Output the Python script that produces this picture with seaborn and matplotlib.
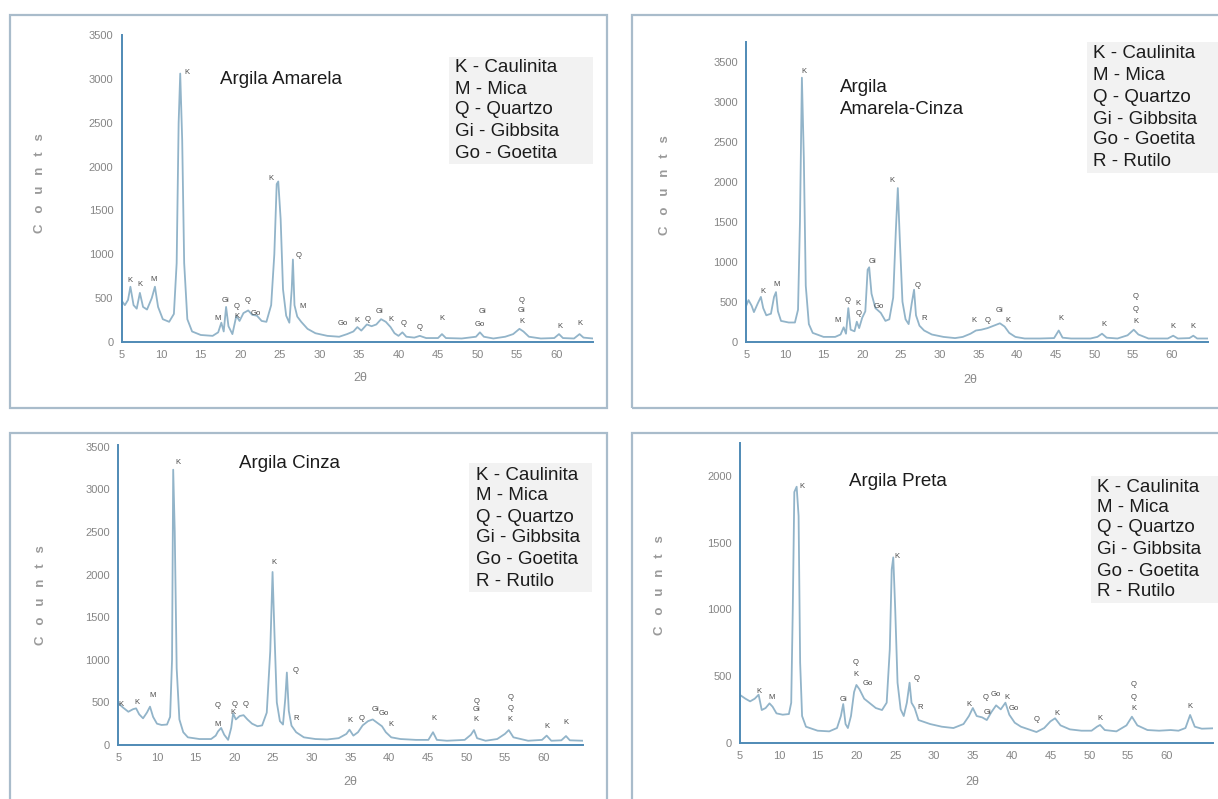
import matplotlib
matplotlib.use("Agg")
import matplotlib.pyplot as plt
import seaborn as sns
from matplotlib.patches import Rectangle
from matplotlib.ticker import MultipleLocator

sns.set_style("white")
plt.rcParams['font.family'] = ['Liberation Sans', 'DejaVu Sans']

# ---------------------------------------------------------------- data
# Argila Amarela
amarela_2theta = [5.0, 5.4, 5.8, 6.1, 6.5, 6.9, 7.3, 7.7, 8.2, 8.8, 9.2, 9.6, 10.2, 11.0, 11.6,
                  11.95, 12.2, 12.4, 12.65, 12.9, 13.3, 13.9, 15.0, 16.5, 17.2, 17.6, 17.9, 18.2,
                  18.5, 19.0, 19.5, 19.9, 20.4, 21.0, 21.5, 22.1, 22.7, 23.3, 23.9, 24.3, 24.6,
                  24.8, 25.1, 25.4, 25.8, 26.2, 26.5, 26.65, 26.85, 27.2, 27.7, 28.5, 29.5, 31.0,
                  32.5, 33.5, 34.3, 34.8, 35.3, 36.0, 36.6, 37.2, 37.8, 38.4, 39.0, 39.5, 40.0,
                  40.5, 41.0, 42.0, 42.7, 43.5, 45.0, 45.5, 46.0, 48.0, 49.8, 50.3, 50.8, 52.0,
                  53.5, 54.5, 55.3, 55.8, 56.5, 58.0, 59.7, 60.3, 60.8, 62.2, 62.9, 63.4, 64.6]
amarela_counts = [470, 420, 480, 630, 420, 380, 560, 400, 370, 500, 630, 400, 260, 230, 320,
                  900, 2500, 3060, 2300, 900, 260, 120, 80, 70, 110, 220, 120, 400,
                  180, 90, 300, 240, 330, 360, 310, 300, 240, 230, 420, 1000, 1800,
                  1830, 1400, 600, 300, 220, 600, 940, 420, 290, 230, 150, 100, 70,
                  60, 90, 120, 170, 130, 200, 180, 200, 260, 230, 170, 100, 70,
                  110, 60, 50, 70, 45, 45, 90, 45, 40, 60, 110, 60, 40,
                  60, 90, 150, 120, 60, 40, 45, 90, 45, 40, 90, 50, 40]
amarela_tags = ["K", "K", "M", "K", "M", "Gi", "Q", "K", "Q", "Go", "K", "Q", "M", "Go", "K",
                "Q", "Gi", "K", "Q", "Q", "K", "Gi", "Go", "Q", "Gi", "K", "K", "K"]
amarela_tag_x = [6.1, 7.3, 9.0, 13.2, 17.1, 18.1, 19.5, 19.6, 20.9, 22.0, 23.9, 27.4, 27.9, 33.0,
                 34.7, 36.1, 37.6, 39.1, 40.6, 42.7, 45.5, 50.6, 50.3, 55.6, 55.6, 55.6, 60.4, 62.9]
amarela_tag_y = [700, 650, 715, 3070, 270, 470, 400, 290, 470, 330, 1860, 990, 400, 210,
                 250, 262, 345, 262, 213, 170, 270, 345, 194, 478, 357, 231, 174, 213]

# Argila Amarela-Cinza
amarcinza_2theta = [5.0, 5.3, 5.7, 6.0, 6.5, 6.9, 7.2, 7.6, 8.2, 8.6, 8.85, 9.1, 9.5, 10.5, 11.3,
                    11.7, 11.95, 12.2, 12.45, 12.7, 13.1, 13.6, 15.0, 16.5, 17.2, 17.6, 17.9, 18.2,
                    18.5, 19.0, 19.3, 19.6, 20.0, 20.4, 20.7, 20.9, 21.2, 21.7, 22.4, 23.0, 23.5,
                    24.0, 24.35, 24.6, 24.85, 25.2, 25.6, 26.0, 26.4, 26.7, 26.95, 27.4, 28.0,
                    29.0, 30.5, 32.0, 33.0, 34.0, 34.7, 35.4, 36.2, 37.0, 37.8, 38.4, 39.0, 39.8,
                    41.0, 43.0, 44.8, 45.4, 45.9, 47.0, 49.5, 50.4, 51.0, 51.6, 53.0, 54.3, 55.1,
                    55.7, 57.0, 59.5, 60.2, 60.8, 62.3, 62.8, 63.3, 64.7]
amarcinza_counts = [450, 520, 450, 370, 480, 560, 420, 330, 350, 560, 620, 380, 260, 240, 240,
                    400, 1500, 3300, 2300, 700, 220, 110, 60, 60, 90, 180, 100, 420,
                    150, 130, 250, 170, 300, 380, 900, 930, 600, 420, 360, 260, 280,
                    550, 1400, 1920, 1300, 500, 280, 220, 480, 650, 330, 200, 140,
                    90, 60, 45, 60, 100, 140, 150, 170, 200, 230, 190, 110, 60,
                    40, 40, 45, 140, 50, 40, 40, 60, 100, 50, 40, 80, 150,
                    90, 40, 40, 75, 40, 45, 75, 40, 40]
amarcinza_tags = ["K", "M", "K", "M", "Q", "K", "Q", "Gi", "Go", "K", "Q", "R", "K", "Q", "Gi",
                  "K", "K", "K", "Q", "Q", "K", "K", "K"]
amarcinza_tag_x = [7.2, 8.9, 12.45, 16.8, 18.1, 19.5, 19.5, 21.3, 22.2, 23.9, 27.1, 28.0, 34.5,
                   36.2, 37.8, 38.8, 45.7, 51.3, 55.4, 55.4, 55.4, 60.2, 62.8]
amarcinza_tag_y = [625, 710, 3380, 260, 510, 480, 355, 1000, 446, 2020, 700, 292, 259,
                   271, 388, 271, 292, 209, 563, 405, 250, 188, 196]

# Argila Cinza
cinza_2theta = [5.0, 5.6, 6.3, 6.9, 7.3, 7.7, 8.2, 8.7, 9.1, 9.5, 10.0, 10.6, 11.3, 11.7, 11.95,
                12.1, 12.3, 12.55, 12.9, 13.4, 14.0, 15.5, 17.0, 17.6, 17.9, 18.3, 18.7, 19.2,
                19.6, 19.85, 20.2, 20.7, 21.2, 21.7, 22.3, 23.0, 23.6, 24.2, 24.65, 24.95, 25.2,
                25.5, 25.9, 26.3, 26.6, 26.8, 27.05, 27.4, 28.0, 29.0, 30.5, 32.0, 33.5, 34.5,
                34.9, 35.4, 36.0, 36.6, 37.3, 37.9, 38.5, 39.1, 39.6, 40.3, 41.5, 43.5, 45.1,
                45.7, 46.2, 47.5, 49.8, 50.6, 51.0, 51.4, 52.5, 54.0, 55.0, 55.5, 56.1, 58.0,
                59.8, 60.4, 61.0, 62.3, 62.9, 63.4, 65.1]
cinza_counts = [490, 440, 390, 420, 430, 360, 313, 380, 450, 330, 250, 235, 240, 330, 1000,
                3230, 2500, 900, 300, 150, 90, 70, 70, 110, 160, 200, 120, 60,
                200, 370, 300, 340, 350, 300, 250, 220, 230, 380, 1100, 2030, 1300,
                500, 280, 240, 550, 850, 400, 227, 150, 90, 70, 65, 80, 130,
                180, 110, 150, 230, 280, 300, 260, 220, 150, 90, 70, 60, 60,
                150, 60, 50, 60, 120, 175, 80, 50, 70, 130, 175, 90, 50,
                60, 110, 50, 55, 105, 55, 50]
cinza_tags = ["K", "K", "M", "K", "M", "Q", "K", "Q", "Q", "K", "Q", "R", "K", "Q", "Gi", "Go",
              "K", "K", "Q", "Gi", "K", "Q", "Q", "K", "K", "K"]
cinza_tag_x = [5.3, 7.4, 9.4, 12.7, 17.8, 17.8, 19.8, 20.0, 21.5, 25.1, 27.9, 28.0, 34.9, 36.5,
               38.2, 39.3, 40.2, 45.8, 51.3, 51.3, 51.3, 55.7, 55.7, 55.7, 60.4, 62.9]
cinza_tag_y = [481, 493, 579, 3310, 246, 458, 380, 470, 470, 2140, 872, 313, 293, 313,
               411, 364, 235, 313, 508, 415, 305, 560, 430, 305, 215, 262]

# Argila Preta
preta_2theta = [5.0, 5.7, 6.3, 6.9, 7.4, 7.8, 8.3, 8.8, 9.2, 9.7, 10.5, 11.3, 11.6, 11.8, 12.0,
                12.3, 12.55, 12.75, 13.0, 13.5, 14.0, 15.0, 16.5, 17.5, 18.0, 18.3, 18.6, 18.9,
                19.3, 19.7, 20.0, 20.4, 21.0, 21.75, 22.5, 23.3, 23.9, 24.3, 24.55, 24.75, 25.0,
                25.3, 25.7, 26.1, 26.5, 26.85, 27.1, 27.5, 28.0, 29.5, 31.0, 32.5, 33.8, 34.5,
                35.0, 35.5, 36.2, 36.8, 37.4, 38.0, 38.6, 39.2, 39.7, 40.4, 41.2, 42.2, 43.2,
                44.2, 45.0, 45.6, 46.3, 47.5, 49.0, 50.3, 51.0, 51.4, 52.0, 53.5, 54.8, 55.5,
                56.2, 57.5, 59.0, 60.5, 61.5, 62.4, 63.0, 63.6, 64.5, 66.0]
preta_counts = [358, 330, 310, 330, 360, 245, 260, 295, 270, 220, 210, 215, 300, 1000, 1880,
                1920, 1700, 600, 200, 120, 110, 90, 85, 110, 200, 290, 140, 110,
                200, 380, 433, 400, 330, 295, 260, 245, 300, 700, 1300, 1390, 1000,
                450, 250, 200, 300, 450, 300, 260, 170, 140, 120, 110, 140, 200,
                260, 200, 190, 170, 230, 280, 250, 300, 210, 150, 120, 100, 80,
                110, 160, 183, 130, 100, 90, 90, 120, 133, 95, 85, 130, 195,
                130, 95, 90, 95, 90, 110, 208, 120, 105, 108]
preta_tags = ["K", "M", "K", "Gi", "Q", "K", "Go", "K", "Q", "R", "K", "Q", "Go", "K", "Gi",
              "Go", "Q", "K", "K", "Q", "Q", "K", "K"]
preta_tag_x = [7.4, 9.1, 12.95, 18.3, 19.95, 19.95, 21.5, 25.25, 27.8, 28.2, 34.55, 36.6, 37.9,
               39.4, 36.9, 40.3, 43.2, 45.8, 51.4, 55.7, 55.7, 55.7, 63.0]
preta_tag_y = [383, 340, 1920, 325, 603, 508, 445, 1395, 483, 265, 290, 340, 358,
               340, 230, 258, 175, 220, 183, 433, 340, 258, 275]

legend_five = ["K - Caulinita", "M - Mica", "Q - Quartzo", "Gi - Gibbsita", "Go - Goetita"]
legend_six = legend_five + ["R - Rutilo"]

# ---------------------------------------------------------------- layout
W, H = 1218, 799
fig = plt.figure(figsize=(W / 100, H / 100), dpi=100)
fig.patch.set_facecolor("white")


def fx(px):
    return px / W


def fy(py):
    return 1 - py / H


AXIS = "#4f8ab5"
CURVE = "#92b4c9"
TICKTXT = "#858585"
FRAME = "#a9bccb"
TEXT = "#1c1c1c"

panels = [
    dict(x=amarela_2theta, y=amarela_counts, tags=amarela_tags, tx=amarela_tag_x, ty=amarela_tag_y,
         px=(121.7, 593), py=(342, 35), xlim=(5, 64.6), ylim=(0, 3500), ymax_tick=3500,
         frame=(10, 15, 607, 408), title=[("Argila Amarela", 220, 80)],
         legend=legend_five, leg_x=455, leg_y=[68, 89, 110, 131, 153], leg_box=(449, 57, 593, 164),
         counts=(40, 183), two_theta=(360, 378)),
    dict(x=amarcinza_2theta, y=amarcinza_counts, tags=amarcinza_tags, tx=amarcinza_tag_x,
         ty=amarcinza_tag_y,
         px=(746.2, 1208), py=(341.7, 41.7), xlim=(5, 64.7), ylim=(0, 3750), ymax_tick=3500,
         frame=(632, 15, 1226, 408), title=[("Argila", 840, 87), ("Amarela-Cinza", 840, 109)],
         legend=legend_six, leg_x=1093, leg_y=[53, 75, 97, 119, 140, 162],
         leg_box=(1087, 42, 1218, 173),
         counts=(665, 185), two_theta=(970, 380)),
    dict(x=cinza_2theta, y=cinza_counts, tags=cinza_tags, tx=cinza_tag_x, ty=cinza_tag_y,
         px=(118.3, 583), py=(745, 445), xlim=(5, 65.1), ylim=(0, 3520), ymax_tick=3500,
         frame=(10, 433, 607, 802), title=[("Argila Cinza", 239, 463)],
         legend=legend_six, leg_x=476, leg_y=[475, 496, 517, 538, 559, 581],
         leg_box=(469, 463, 592, 592),
         counts=(41, 595), two_theta=(350, 782)),
    dict(x=preta_2theta, y=preta_counts, tags=preta_tags, tx=preta_tag_x, ty=preta_tag_y,
         px=(740, 1213.4), py=(742.7, 442.7), xlim=(5, 66), ylim=(0, 2250), ymax_tick=2000,
         frame=(632, 433, 1226, 802), title=[("Argila Preta", 849, 482)],
         legend=legend_six, leg_x=1097, leg_y=[487, 507, 528, 550, 571, 592],
         leg_box=(1091, 476, 1218, 603),
         counts=(660, 585), two_theta=(972, 782)),
]

for p in panels:
    # panel frame
    x0, y0, x1, y1 = p["frame"]
    fig.patches.append(Rectangle((fx(x0), fy(y1)), fx(x1) - fx(x0), fy(y0) - fy(y1),
                                 transform=fig.transFigure, fill=False, edgecolor=FRAME,
                                 linewidth=1.6, zorder=-2))
    # shaded block behind the phase key
    bx0, by0, bx1, by1 = p["leg_box"]
    fig.patches.append(Rectangle((fx(bx0), fy(by1)), fx(bx1) - fx(bx0), fy(by0) - fy(by1),
                                 transform=fig.transFigure, facecolor="#f2f2f2",
                                 edgecolor="none", zorder=-1))

    left, right = p["px"]
    base, top = p["py"]
    ax = fig.add_axes([fx(left), fy(base), fx(right) - fx(left), fy(top) - fy(base)])
    ax.set_facecolor("none")

    sns.lineplot(x=p["x"], y=p["y"], ax=ax, color=CURVE, linewidth=1.3, sort=False)

    for t, xx, yy in zip(p["tags"], p["tx"], p["ty"]):
        ax.text(xx, yy, t, fontsize=5.5, color="#4a4a4a", ha="center", va="center",
                clip_on=False)

    ax.set_xlim(*p["xlim"])
    ax.set_ylim(*p["ylim"])
    ax.set_xticks(list(range(5, 65, 5)))
    ax.set_yticks(list(range(0, p["ymax_tick"] + 1, 500)))
    ax.xaxis.set_minor_locator(MultipleLocator(2.5))
    ax.yaxis.set_minor_locator(MultipleLocator(250))
    ax.tick_params(which="both", direction="in", color=AXIS, width=1.0)
    ax.tick_params(which="major", length=5)
    ax.tick_params(which="minor", length=3)
    ax.tick_params(axis="x", which="major", labelsize=8, labelcolor=TICKTXT, pad=6)
    ax.tick_params(axis="y", which="major", labelsize=8, labelcolor=TICKTXT, pad=6)
    ax.set_xlabel("")
    ax.set_ylabel("")
    for side in ("top", "right"):
        ax.spines[side].set_visible(False)
    for side in ("left", "bottom"):
        ax.spines[side].set_color(AXIS)
        ax.spines[side].set_linewidth(1.4)

    for txt, tx_, ty_ in p["title"]:
        fig.text(fx(tx_), fy(ty_), txt, fontsize=13.5, color=TEXT, ha="left", va="center")
    for txt, ly in zip(p["legend"], p["leg_y"]):
        fig.text(fx(p["leg_x"]), fy(ly), txt, fontsize=13.5, color=TEXT, ha="left", va="center")

    cx, cy = p["counts"]
    fig.text(fx(cx), fy(cy), "C   o   u   n   t   s", rotation=90, fontsize=9.5,
             fontweight="bold", color="#9a9a9a", ha="center", va="center")
    tx2, ty2 = p["two_theta"]
    fig.text(fx(tx2), fy(ty2), "2θ", fontsize=9, color="#8a8a8a", ha="center", va="center")

fig.savefig("out.png", dpi=100)
